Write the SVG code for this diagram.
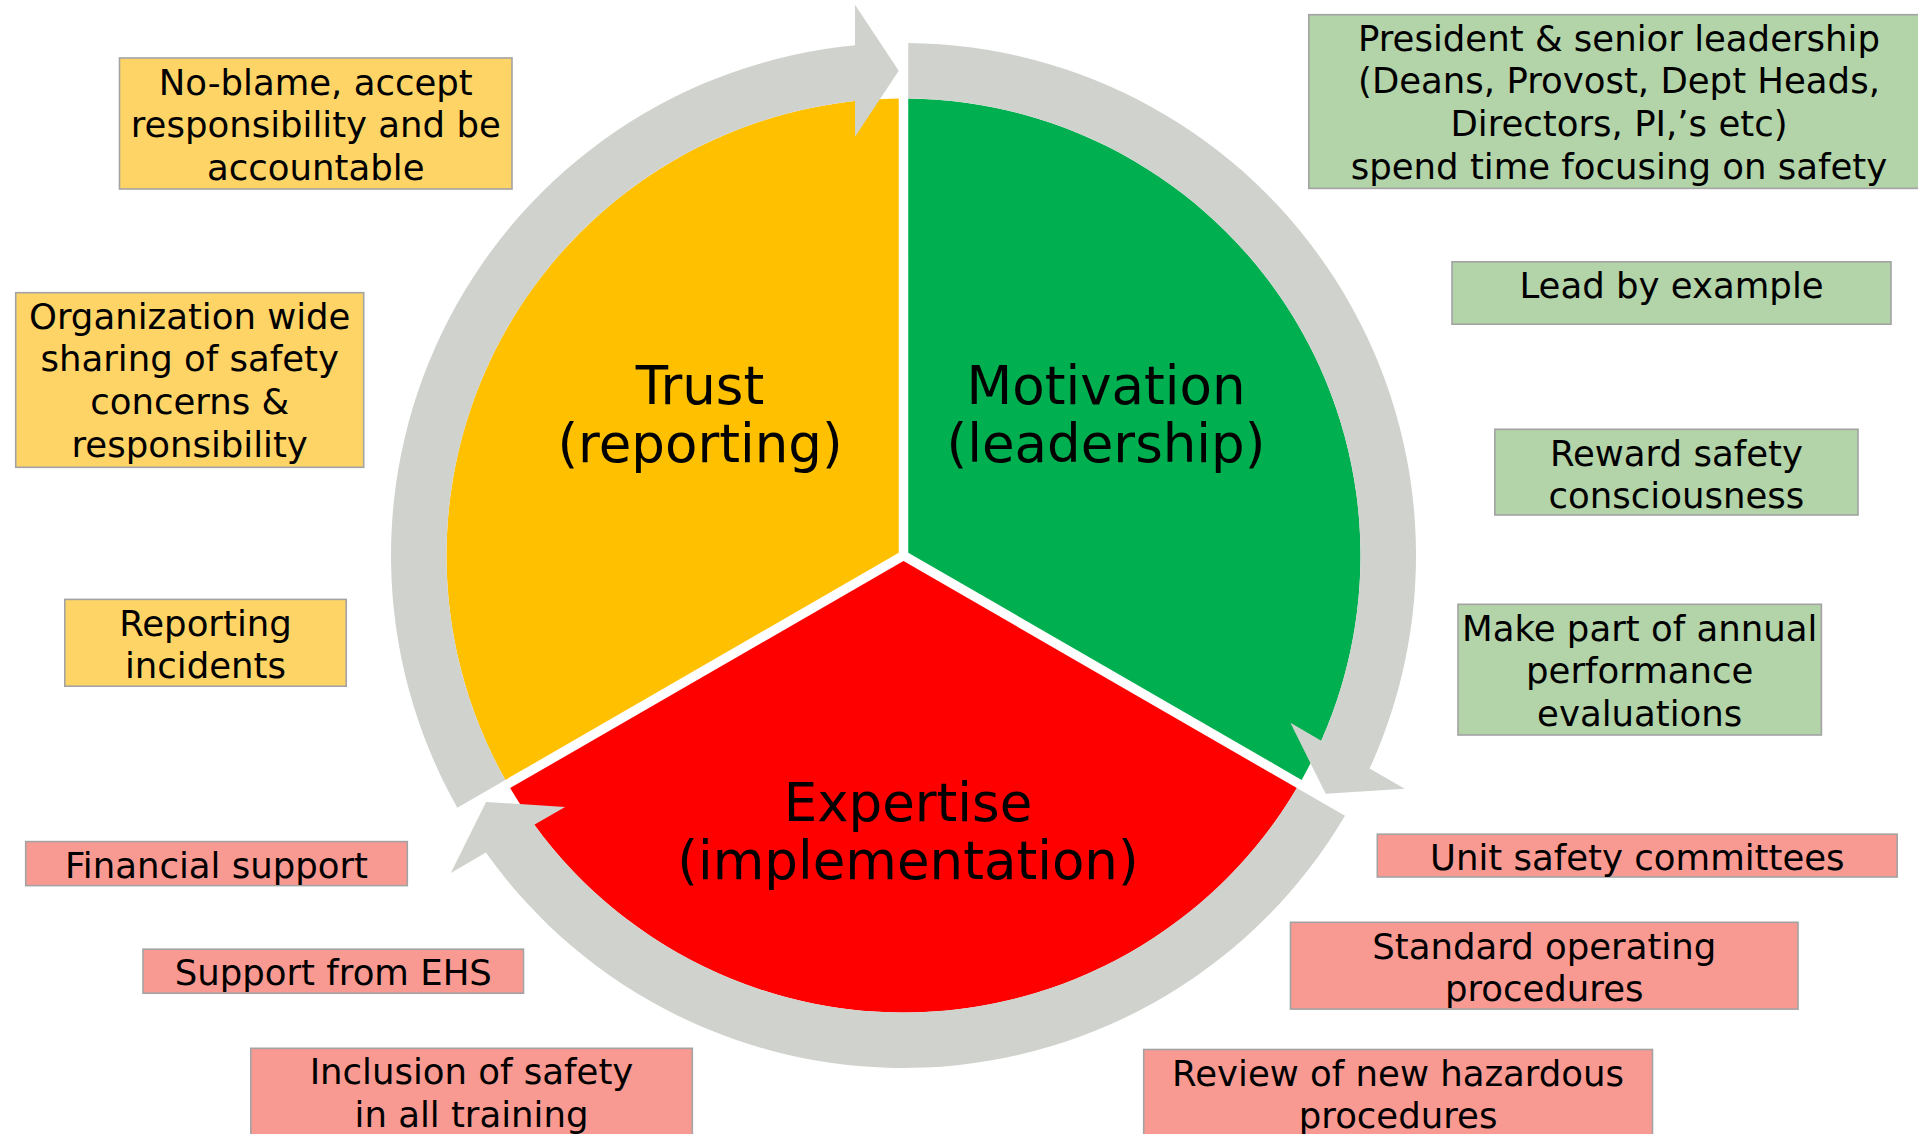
<svg xmlns="http://www.w3.org/2000/svg" xmlns:xlink="http://www.w3.org/1999/xlink" width="1918" height="1134" viewBox="0 0 1918 1134">
<style>
  text { font-family: "DejaVu Sans", Verdana, sans-serif; fill: #000; text-anchor: middle; }
  .big { font-size: 53px; }
  .lbl { font-size: 35.5px; }
  .box { stroke: #A3A3A3; stroke-width: 1.6; }
  .by { fill: #FED466; }
  .bg { fill: #B3D3A8; }
  .br { fill: #F99A92; }
  .arrow { fill: #D0D2CD; }
</style>
<defs>
  <path id="wedge" d="M 898.75 552.76 L 898.75 98.52 A 457 457 0 0 0 505.38 779.88 Z"/>
  <path id="carrow" d="M 457.31 807.63 A 512.5 512.5 0 0 1 855 45.3 L 855 4.75 L 898.75 70.75 L 855 136.75 L 855 101.08 A 457 457 0 0 0 505.38 779.88 Z"/>
</defs>
<rect width="1918" height="1134" fill="#FFFFFF"/>

<g id="trust">
  <use xlink:href="#wedge" href="#wedge" fill="#FFC000"/>
  <text class="big" x="700" y="403.5">Trust</text>
  <text class="big" x="700" y="461.5">(reporting)</text>
</g>
<g id="motivation">
  <use xlink:href="#wedge" href="#wedge" fill="#00B050" transform="rotate(120 903.5 555.5)"/>
  <text class="big" x="1106" y="403.5">Motivation</text>
  <text class="big" x="1106" y="461.5">(leadership)</text>
</g>
<g id="expertise">
  <use xlink:href="#wedge" href="#wedge" fill="#FF0000" transform="rotate(240 903.5 555.5)"/>
  <text class="big" x="908" y="821">Expertise</text>
  <text class="big" x="908" y="879">(implementation)</text>
</g>

<g id="connectors">
  <use xlink:href="#carrow" href="#carrow" class="arrow"/>
  <use xlink:href="#carrow" href="#carrow" class="arrow" transform="rotate(120 903.5 555.5)"/>
  <use xlink:href="#carrow" href="#carrow" class="arrow" transform="rotate(240 903.5 555.5)"/>
</g>

<g id="box-noblame">
  <rect class="box by" x="119.5" y="58" width="392.5" height="131"/>
  <text class="lbl" x="315.8" y="94.5">No-blame, accept</text>
  <text class="lbl" x="315.8" y="137.2">responsibility and be</text>
  <text class="lbl" x="315.8" y="179.9">accountable</text>
</g>
<g id="box-organization">
  <rect class="box by" x="15.7" y="292.7" width="348" height="174.6"/>
  <text class="lbl" x="189.7" y="328.5">Organization wide</text>
  <text class="lbl" x="189.7" y="371.2">sharing of safety</text>
  <text class="lbl" x="189.7" y="413.9">concerns &amp;</text>
  <text class="lbl" x="189.7" y="456.6">responsibility</text>
</g>
<g id="box-reporting">
  <rect class="box by" x="64.8" y="599.4" width="281.4" height="86.8"/>
  <text class="lbl" x="205.5" y="635.5">Reporting</text>
  <text class="lbl" x="205.5" y="678.2">incidents</text>
</g>

<g id="box-president">
  <rect class="box bg" x="1308.8" y="14.7" width="622" height="173.7"/>
  <text class="lbl" x="1619" y="50.5">President &amp; senior leadership</text>
  <text class="lbl" x="1619" y="93.2">(Deans, Provost, Dept Heads,</text>
  <text class="lbl" x="1619" y="135.9">Directors, PI,’s etc)</text>
  <text class="lbl" x="1619" y="178.6">spend time focusing on safety</text>
</g>
<g id="box-lead">
  <rect class="box bg" x="1452" y="261.8" width="439" height="62.4"/>
  <text class="lbl" x="1671.5" y="298">Lead by example</text>
</g>
<g id="box-reward">
  <rect class="box bg" x="1494.8" y="429.3" width="363.2" height="85.7"/>
  <text class="lbl" x="1676.4" y="465.5">Reward safety</text>
  <text class="lbl" x="1676.4" y="508.2">consciousness</text>
</g>
<g id="box-annual">
  <rect class="box bg" x="1458" y="604.3" width="363.4" height="130.7"/>
  <text class="lbl" x="1639.7" y="640.5">Make part of annual</text>
  <text class="lbl" x="1639.7" y="683.2">performance</text>
  <text class="lbl" x="1639.7" y="725.9">evaluations</text>
</g>

<g id="box-unit">
  <rect class="box br" x="1377.3" y="834.2" width="519.9" height="42.8"/>
  <text class="lbl" x="1637.3" y="870">Unit safety committees</text>
</g>
<g id="box-sop">
  <rect class="box br" x="1290.5" y="922.3" width="507.5" height="86.8"/>
  <text class="lbl" x="1544.2" y="958.5">Standard operating</text>
  <text class="lbl" x="1544.2" y="1001.2">procedures</text>
</g>
<g id="box-review">
  <rect class="box br" x="1143.7" y="1049.5" width="508.8" height="100"/>
  <text class="lbl" x="1398.1" y="1085.5">Review of new hazardous</text>
  <text class="lbl" x="1398.1" y="1128.2">procedures</text>
</g>
<g id="box-financial">
  <rect class="box br" x="25.7" y="841.6" width="381.6" height="44"/>
  <text class="lbl" x="216.5" y="877.5">Financial support</text>
</g>
<g id="box-ehs">
  <rect class="box br" x="143" y="949.2" width="380.5" height="44"/>
  <text class="lbl" x="333.3" y="985">Support from EHS</text>
</g>
<g id="box-training">
  <rect class="box br" x="250.8" y="1048.3" width="441.5" height="100"/>
  <text class="lbl" x="471.5" y="1084.3">Inclusion of safety</text>
  <text class="lbl" x="471.5" y="1127">in all training</text>
</g>
</svg>
